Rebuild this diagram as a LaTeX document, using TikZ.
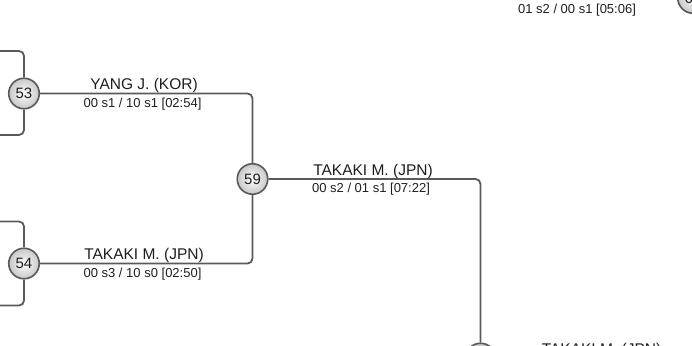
\documentclass[tikz,border=0pt]{standalone}
\usepackage{fontspec}
\setmainfont{Liberation Sans}
\definecolor{linegray}{HTML}{5A5A5A}
\definecolor{textc}{HTML}{1E1E1E}
\begin{document}
\begin{tikzpicture}[x=1pt,y=-1pt,
  conn/.style={draw=linegray, line width=1.8pt, rounded corners=5pt},
  matchnode/.style={circle, draw=linegray, line width=1.6pt, minimum size=30.5pt, inner sep=0pt,
    inner color=white, outer color=black!22, text=textc, font=\fontsize{15}{15}\selectfont},
  winner/.style={anchor=base, font=\fontsize{15.5}{16}\selectfont, text=textc, inner sep=0pt},
  score/.style={anchor=base, font=\fontsize{13}{14}\selectfont, text=textc, inner sep=0pt}]
\useasboundingbox (0,0) rectangle (692,345);
\clip (0,0) rectangle (692,345);

% match nodes
\node[matchnode] (m53) at (24,93.5) {53};
\node[matchnode] (m54) at (24,263.5) {54};
\node[matchnode] (m59) at (252.5,179) {59};
\node[matchnode] (mbr) at (480.5,358.5) {};
\node[matchnode] (mtr) at (693,-2) {61};

% free ends
\coordinate (a53t) at (0,51);
\coordinate (a53b) at (0,135);
\coordinate (a54t) at (0,221.5);
\coordinate (a54b) at (0,305.5);
\coordinate (brend) at (720,358.5);
\coordinate (trstart) at (477,-2);

% connectors
\draw[conn] (a53t) -| (m53.north);
\draw[conn] (m53.south) |- (a53b);
\draw[conn] (a54t) -| (m54.north);
\draw[conn] (m54.south) |- (a54b);
\draw[conn] (m53.east) -| (m59.north);
\draw[conn] (m54.east) -| (m59.south);
\draw[conn] (m59.east) -| (mbr.north);
\draw[conn] (mbr.east) -- (brend);
\draw[conn] (trstart) -- (mtr.west);

% labels
\node[winner] (w53) at (144,89.3) {YANG J. (KOR)};
\node[score]  (s53) at (142.5,107) {00 s1 / 10 s1 [02:54]};
\node[winner] (w54) at (144,259.5) {TAKAKI M. (JPN)};
\node[score]  (s54) at (142.5,277.2) {00 s3 / 10 s0 [02:50]};
\node[winner] (w59) at (373,175.3) {TAKAKI M. (JPN)};
\node[score]  (s59) at (371,192.5) {00 s2 / 01 s1 [07:22]};
\node[score]  (str) at (577,13.3) {01 s2 / 00 s1 [05:06]};
\node[winner] (wbr) at (601.5,354.5) {TAKAKI M. (JPN)};
\end{tikzpicture}
\end{document}
